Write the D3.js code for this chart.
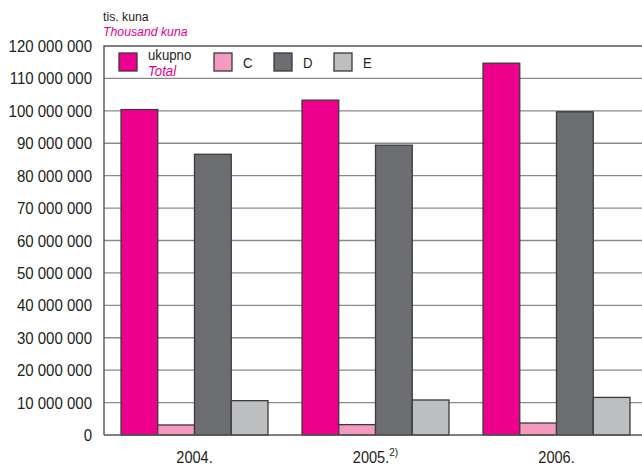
<!DOCTYPE html>
<html>
<head>
<meta charset="utf-8">
<script src="https://cdn.jsdelivr.net/npm/d3@7"></script>
<style>
  body { margin: 0; background: #fff; }
  svg { display: block; font-family: "Liberation Sans", Arial, sans-serif; }
</style>
</head>
<body>
<svg width="642" height="466"></svg>
<script>
// years on the x axis
const years = ["2004.", "2005.", "2006."];
const yearNotes = ["", "2)", ""];
// series, thousand kuna
const series = ["ukupno", "C", "D", "E"];
const ukupno = [100400000, 103300000, 114700000];
const sectionC = [3100000, 3200000, 3700000];
const sectionD = [86600000, 89400000, 99700000];
const sectionE = [10600000, 10800000, 11600000];
const yTicks = d3.range(0, 120000001, 10000000);

const colors = ["#ec008c", "#f49ac1", "#6d6e71", "#bcbec0"];
const values = [ukupno, sectionC, sectionD, sectionE];
const ink = "#231f20";
const narrow = 0.91; // the original type is a bit condensed

const svg = d3.select("svg");
const plotL = 104, plotR = 647, plotT = 46, plotB = 435;

const x = d3.scaleBand().domain(years).range([plotL, plotR]).paddingInner(0.188).paddingOuter(0.094);
const xs = d3.scaleBand().domain(series).range([0, x.bandwidth()]);
const y = d3.scaleLinear().domain([0, 120000000]).range([plotB, plotT]);

const fmt = v => d3.format(",")(v).replace(/,/g, " ");

// text squeezed horizontally around its anchor point
function label(parent, px, py, str, size, opts = {}) {
  const t = parent.append("text")
    .attr("transform", `translate(${px},${py}) scale(${narrow},1)`)
    .attr("font-size", size)
    .attr("fill", opts.fill || ink)
    .attr("text-anchor", opts.anchor || "start")
    .text(str);
  if (opts.italic) t.attr("font-style", "italic");
  return t;
}

// gridlines
svg.append("g").selectAll("line")
  .data(yTicks.filter(d => d > 0 && d < 120000000))
  .enter().append("line")
  .attr("x1", plotL).attr("x2", plotR)
  .attr("y1", d => y(d)).attr("y2", d => y(d))
  .attr("stroke", "#8a8a8a").attr("stroke-width", 1.4);

// y tick labels
const yLab = svg.append("g");
yTicks.forEach(d => label(yLab, 92, y(d) + 6, fmt(d), 16.5, { anchor: "end" }));

// bars
const groups = svg.append("g").selectAll("g")
  .data(years)
  .enter().append("g")
  .attr("transform", d => `translate(${x(d)},0)`);

groups.selectAll("rect")
  .data((d, i) => series.map((s, j) => ({ s, v: values[j][i], c: colors[j] })))
  .enter().append("rect")
  .attr("x", d => xs(d.s))
  .attr("y", d => y(d.v))
  .attr("width", xs.bandwidth())
  .attr("height", d => plotB - y(d.v))
  .attr("fill", d => d.c)
  .attr("stroke", "#3a3a3c").attr("stroke-width", 1.3);

// frame
svg.append("path")
  .attr("d", `M${plotR},${plotT}H${plotL}V${plotB}`)
  .attr("fill", "none").attr("stroke", "#555").attr("stroke-width", 1.4);
svg.append("line")
  .attr("x1", plotL).attr("x2", plotR).attr("y1", plotB).attr("y2", plotB)
  .attr("stroke", "#555").attr("stroke-width", 1.4);

// x labels
const xLab = svg.append("g");
years.forEach((d, i) => {
  const t = label(xLab, x(d) + x.bandwidth() / 2, 463, null, 16, { anchor: "middle" });
  t.append("tspan").text(d);
  if (yearNotes[i]) t.append("tspan").attr("dy", -7).attr("font-size", 11).text(yearNotes[i]);
});

// unit label
label(svg, 103, 21, "tis. kuna", 13.5);
label(svg, 103, 36, "Thousand kuna", 13.5, { fill: "#ec008c", italic: true });

// legend
const legendX = [119, 214, 274, 334];
const legend = svg.append("g");
series.forEach((s, i) => {
  legend.append("rect")
    .attr("x", legendX[i]).attr("y", 53)
    .attr("width", 18).attr("height", 18)
    .attr("fill", colors[i])
    .attr("stroke", "#3a3a3c").attr("stroke-width", 1.3);
  if (i === 0) label(legend, legendX[i] + 29, 60, s, 14.5);
  else label(legend, legendX[i] + 29, 68, s, 14.5);
});
label(legend, 148, 76, "Total", 14.5, { fill: "#ec008c", italic: true });
</script>
</body>
</html>
